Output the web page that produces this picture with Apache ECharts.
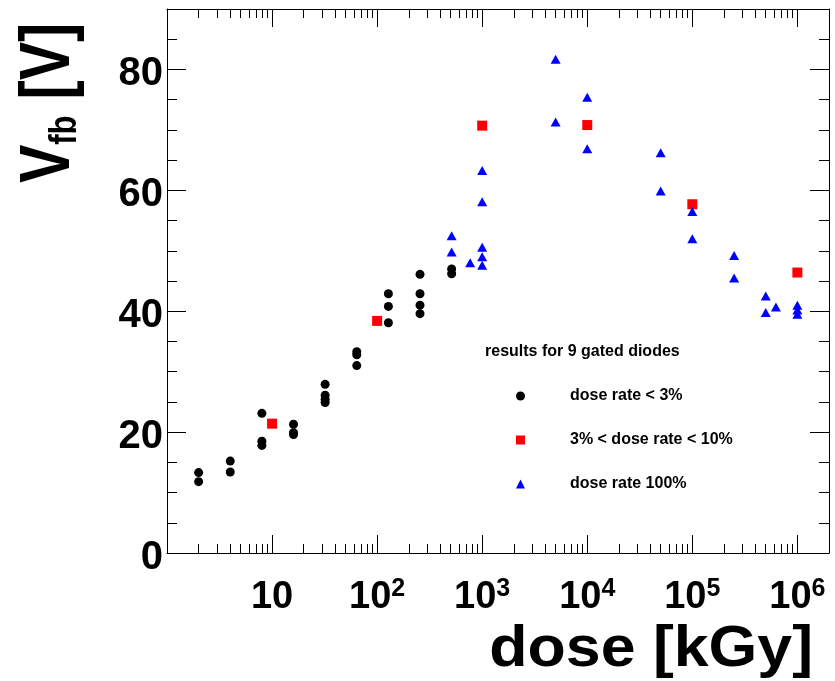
<!DOCTYPE html>
<html>
<head>
<meta charset="utf-8">
<style>
  html, body { margin: 0; padding: 0; background: #fff; }
  #chart { width: 835px; height: 681px; }
</style>
<script src="https://cdn.jsdelivr.net/npm/echarts@6/dist/echarts.min.js"></script>
</head>
<body>
<div id="chart"></div>
<script>
// dose [kGy] and flat-band voltage [V], one pair of arrays per dose-rate group
const doseLow = [2, 2, 4, 4, 8, 8, 8, 16, 16, 16, 32, 32, 32, 32, 64, 64, 64, 128, 128, 128, 256, 256, 256, 256, 512, 512]
const vfbLow = [13.3, 11.8, 15.2, 13.4, 23.1, 18.5, 17.8, 21.3, 19.9, 19.6, 27.9, 26.1, 25.4, 24.9, 33.3, 32.8, 31.0, 42.9, 40.8, 38.1, 46.1, 42.9, 41.0, 39.6, 47.0, 46.2]
const doseMid = [10, 100, 1000, 10000, 100000, 1000000]
const vfbMid = [21.4, 38.4, 70.7, 70.8, 57.7, 46.4]
const doseFull = [512, 512, 768, 1000, 1000, 1000, 1000, 1000, 5000, 5000, 10000, 10000, 50000, 50000, 100000, 100000, 250000, 250000, 500000, 500000, 625000, 1000000, 1000000, 1000000]
const vfbFull = [52.5, 49.8, 48.0, 63.3, 58.1, 50.6, 49.0, 47.6, 81.7, 71.3, 75.4, 66.9, 66.2, 59.9, 56.5, 52.0, 49.2, 45.5, 42.5, 39.8, 40.7, 41.0, 40.2, 39.5]

const seriesNames = ['dose rate < 3%', '3% < dose rate < 10%', 'dose rate 100%']
const xMajor = [10, 1e2, 1e3, 1e4, 1e5, 1e6]
const xMinor = []
for (let d = 1; d <= 1e5; d *= 10) for (let k = 2; k <= 9; k++) xMinor.push(k * d)

const FONT = '"Liberation Sans", Arial, Helvetica, sans-serif'

const zip = (xs, ys) => xs.map((x, i) => [x, ys[i]])

// ROOT-style frame: ticks inside, mirrored on top/right
function xAxis(position, ticks, len, labels) {
  return {
    type: 'log',
    logBase: 10,
    min: 1,
    max: 2e6,
    position,
    axisLine: { show: len > 10, onZero: false, lineStyle: { color: '#000', width: 1 } },
    axisTick: { show: true, inside: true, length: len, customValues: ticks, lineStyle: { color: '#000', width: 1 } },
    axisLabel: {
      show: labels,
      customValues: xMajor,
      margin: 24,
      formatter: (v) => {
        const n = Math.round(Math.log10(v))
        return n === 1 ? '{b|10}' : '{b|10}{s|' + n + '}'
      },
      rich: {
        b: { fontSize: 38, fontWeight: 'bold', fontFamily: FONT, color: '#000', lineHeight: 42 },
        s: { fontSize: 25, fontWeight: 'bold', fontFamily: FONT, color: '#000', lineHeight: 14, verticalAlign: 'top' },
      },
    },
    splitLine: { show: false },
    minorTick: { show: false },
  }
}

function yAxis(position, labels) {
  return {
    type: 'value',
    min: 0,
    max: 90,
    interval: 20,
    position,
    axisLine: { show: true, onZero: false, lineStyle: { color: '#000', width: 1 } },
    axisTick: { show: true, inside: true, length: 19, lineStyle: { color: '#000', width: 1 } },
    minorTick: { show: true, splitNumber: 4, length: 10, lineStyle: { color: '#000', width: 1 } },
    axisLabel: {
      show: labels,
      showMaxLabel: false,
      margin: 4,
      formatter: '{a|{value}}',
      rich: {
        a: { fontSize: 40, fontWeight: 'bold', fontFamily: FONT, color: '#000', lineHeight: 42, padding: [10, 0, 0, 0] },
      },
    },
    splitLine: { show: false },
  }
}

const chart = echarts.init(document.getElementById('chart'), null, { renderer: 'canvas' })

chart.setOption({
  animation: false,
  backgroundColor: '#fff',
  grid: { left: 167, right: 6, top: 9, bottom: 128, containLabel: false, outerBoundsMode: 'none' },
  xAxis: [
    xAxis('bottom', xMajor, 18, true),
    xAxis('bottom', xMinor, 9, false),
    xAxis('top', xMajor, 18, false),
    xAxis('top', xMinor, 9, false),
  ],
  yAxis: [yAxis('left', true), yAxis('right', false)],
  legend: {
    orient: 'vertical',
    left: 516,
    top: 386,
    padding: 0,
    itemWidth: 9,
    itemHeight: 9,
    itemGap: 24,
    selectedMode: false,
    itemStyle: { opacity: 1 },
    textStyle: { fontSize: 16, fontWeight: 'bold', fontFamily: FONT, color: '#000', lineHeight: 20, padding: [0, 0, 0, 40] },
    data: seriesNames,
  },
  graphic: [
    {
      type: 'text',
      x: 49.5,
      y: 103,
      rotation: Math.PI / 2,
      scaleX: 0.82,
      style: {
        text: '{v|V}{s|fb}{v| [V]}',
        align: 'center',
        verticalAlign: 'middle',
        textAlign: 'center',
        textVerticalAlign: 'middle',
        fill: '#000',
        rich: {
          v: { fontSize: 70, fontWeight: 'bold', fontFamily: FONT, fill: '#000', color: '#000', lineHeight: 70 },
          s: { fontSize: 38, fontWeight: 'bold', fontFamily: FONT, fill: '#000', color: '#000', lineHeight: 30, verticalAlign: 'bottom' },
        },
      },
    },
    {
      type: 'text',
      x: 813,
      y: 650,
      scaleX: 1.08,
      style: {
        text: 'dose [kGy]',
        font: 'bold 58px ' + FONT,
        fill: '#000',
        align: 'right',
        verticalAlign: 'middle',
        textAlign: 'right',
        textVerticalAlign: 'middle',
      },
    },
    {
      type: 'text',
      x: 485,
      y: 352,
      style: {
        text: 'results for 9 gated diodes',
        font: 'bold 16px ' + FONT,
        fill: '#000',
        verticalAlign: 'middle',
        textVerticalAlign: 'middle',
      },
    },
  ],
  series: [
    {
      name: seriesNames[0],
      type: 'scatter',
      symbol: 'circle',
      symbolSize: 9,
      itemStyle: { color: '#000', opacity: 1 },
      data: zip(doseLow, vfbLow),
    },
    {
      name: seriesNames[1],
      type: 'scatter',
      symbol: 'rect',
      symbolSize: 10,
      itemStyle: { color: '#ff0000', opacity: 1 },
      data: zip(doseMid, vfbMid),
    },
    {
      name: seriesNames[2],
      type: 'scatter',
      symbol: 'triangle',
      symbolSize: [10, 9],
      itemStyle: { color: '#0000ff', opacity: 1 },
      data: zip(doseFull, vfbFull),
    },
  ],
})
window.addEventListener('resize', () => chart.resize())
</script>
</body>
</html>
